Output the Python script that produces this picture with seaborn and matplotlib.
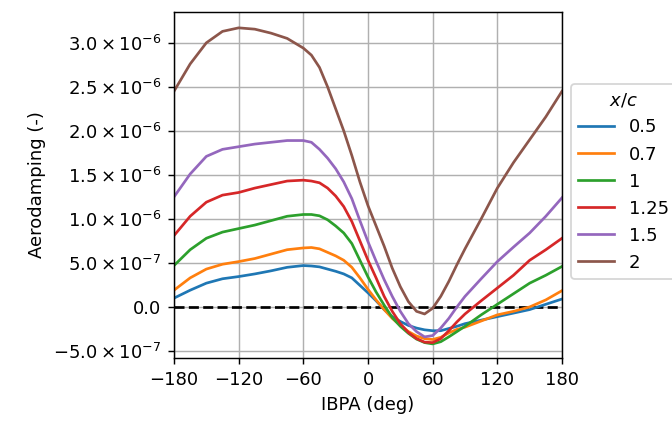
import numpy as np
import pandas as pd
import matplotlib
matplotlib.use("Agg")
import matplotlib.pyplot as plt
import matplotlib.ticker as mticker
import seaborn as sns

ibpa = [-180, -165, -150, -135, -120, -105, -90, -75, -60, -52.5, -45, -37.5, -30, -22.5,
        -15, -7.5, 0, 7.5, 15, 22.5, 30, 37.5, 45, 52.5, 60, 67.5, 75, 82.5,
        90, 105, 120, 135, 150, 165, 180]

labels = ["0.5", "0.7", "1", "1.25", "1.5", "2"]

# values in units of 1e-6
d_05 = [0.10, 0.19, 0.27, 0.32, 0.345, 0.375, 0.41, 0.45, 0.47, 0.465, 0.455, 0.43, 0.405, 0.375,
        0.33, 0.245, 0.16, 0.07, -0.03, -0.11, -0.165, -0.21, -0.24, -0.26, -0.27, -0.27, -0.245, -0.22,
        -0.19, -0.15, -0.11, -0.07, -0.03, 0.03, 0.09]
d_07 = [0.19, 0.33, 0.43, 0.485, 0.515, 0.55, 0.60, 0.65, 0.67, 0.675, 0.66, 0.62, 0.58, 0.53,
        0.45, 0.33, 0.20, 0.08, -0.03, -0.13, -0.21, -0.28, -0.33, -0.36, -0.37, -0.345, -0.295, -0.255,
        -0.23, -0.16, -0.09, -0.05, 0.0, 0.08, 0.185]
d_1 = [0.47, 0.65, 0.78, 0.85, 0.89, 0.93, 0.98, 1.03, 1.05, 1.05, 1.035, 0.99, 0.92, 0.84,
       0.72, 0.53, 0.34, 0.17, 0.02, -0.12, -0.22, -0.30, -0.365, -0.405, -0.42, -0.395, -0.34, -0.28,
       -0.22, -0.09, 0.03, 0.15, 0.27, 0.36, 0.46]
d_125 = [0.81, 1.03, 1.19, 1.27, 1.30, 1.35, 1.39, 1.43, 1.44, 1.43, 1.41, 1.35, 1.26, 1.14,
         0.97, 0.75, 0.53, 0.33, 0.12, -0.05, -0.19, -0.29, -0.36, -0.40, -0.405, -0.36, -0.27, -0.17,
         -0.08, 0.07, 0.215, 0.36, 0.53, 0.65, 0.78]
d_15 = [1.25, 1.51, 1.71, 1.79, 1.82, 1.85, 1.87, 1.89, 1.89, 1.87, 1.79, 1.69, 1.57, 1.42,
        1.23, 0.98, 0.74, 0.52, 0.31, 0.12, -0.05, -0.19, -0.28, -0.34, -0.325, -0.24, -0.13, 0.0,
        0.12, 0.32, 0.515, 0.68, 0.84, 1.03, 1.24]
d_2 = [2.45, 2.76, 3.00, 3.13, 3.17, 3.155, 3.11, 3.05, 2.94, 2.86, 2.72, 2.50, 2.25, 2.0,
       1.72, 1.42, 1.15, 0.92, 0.69, 0.44, 0.23, 0.06, -0.05, -0.08, -0.015, 0.12, 0.29, 0.48,
       0.66, 1.00, 1.35, 1.64, 1.90, 2.16, 2.45]

series = [d_05, d_07, d_1, d_125, d_15, d_2]
frames = []
for lab, vals in zip(labels, series):
    frames.append(pd.DataFrame({"IBPA": ibpa,
                                "damp": np.array(vals) * 1e-6,
                                "x/c": lab}))
df = pd.concat(frames, ignore_index=True)

plt.rcParams["font.family"] = ["DejaVu Sans"]
DPI = 130
fig = plt.figure(figsize=(672 / DPI, 425 / DPI), dpi=DPI)
ax = fig.add_axes([174 / 672, 1 - 358 / 425, (562 - 174) / 672, (358 - 12) / 425])

palette = sns.color_palette("tab10", 6)
sns.lineplot(data=df, x="IBPA", y="damp", hue="x/c", hue_order=labels,
             palette=palette, linewidth=1.5, ax=ax, legend=True)

ax.axhline(0, color="black", linestyle="--", linewidth=1.5, zorder=1)
ax.grid(True, color="#b0b0b0", linewidth=0.8)
ax.set_axisbelow(True)

ax.set_xlim(-180, 180)
ax.set_ylim(-0.58e-6, 3.35e-6)
ax.set_xticks([-180, -120, -60, 0, 60, 120, 180])
ax.set_yticks([-5e-7, 0, 5e-7, 1e-6, 1.5e-6, 2e-6, 2.5e-6, 3e-6])


def sci(v, pos):
    if v == 0:
        return "0.0"
    e = int(np.floor(np.log10(abs(v)) + 1e-9))
    m = v / 10 ** e
    return r"$%.1f\times10^{%d}$" % (m, e)


ax.yaxis.set_major_formatter(mticker.FuncFormatter(sci))
ax.set_xlabel("IBPA (deg)")
ax.set_ylabel("Aerodamping (-)")

leg = ax.legend(title="$x/c$", loc="center left", bbox_to_anchor=(1.0, 0.51),
                frameon=True)

fig.savefig("out.png", dpi=DPI)
